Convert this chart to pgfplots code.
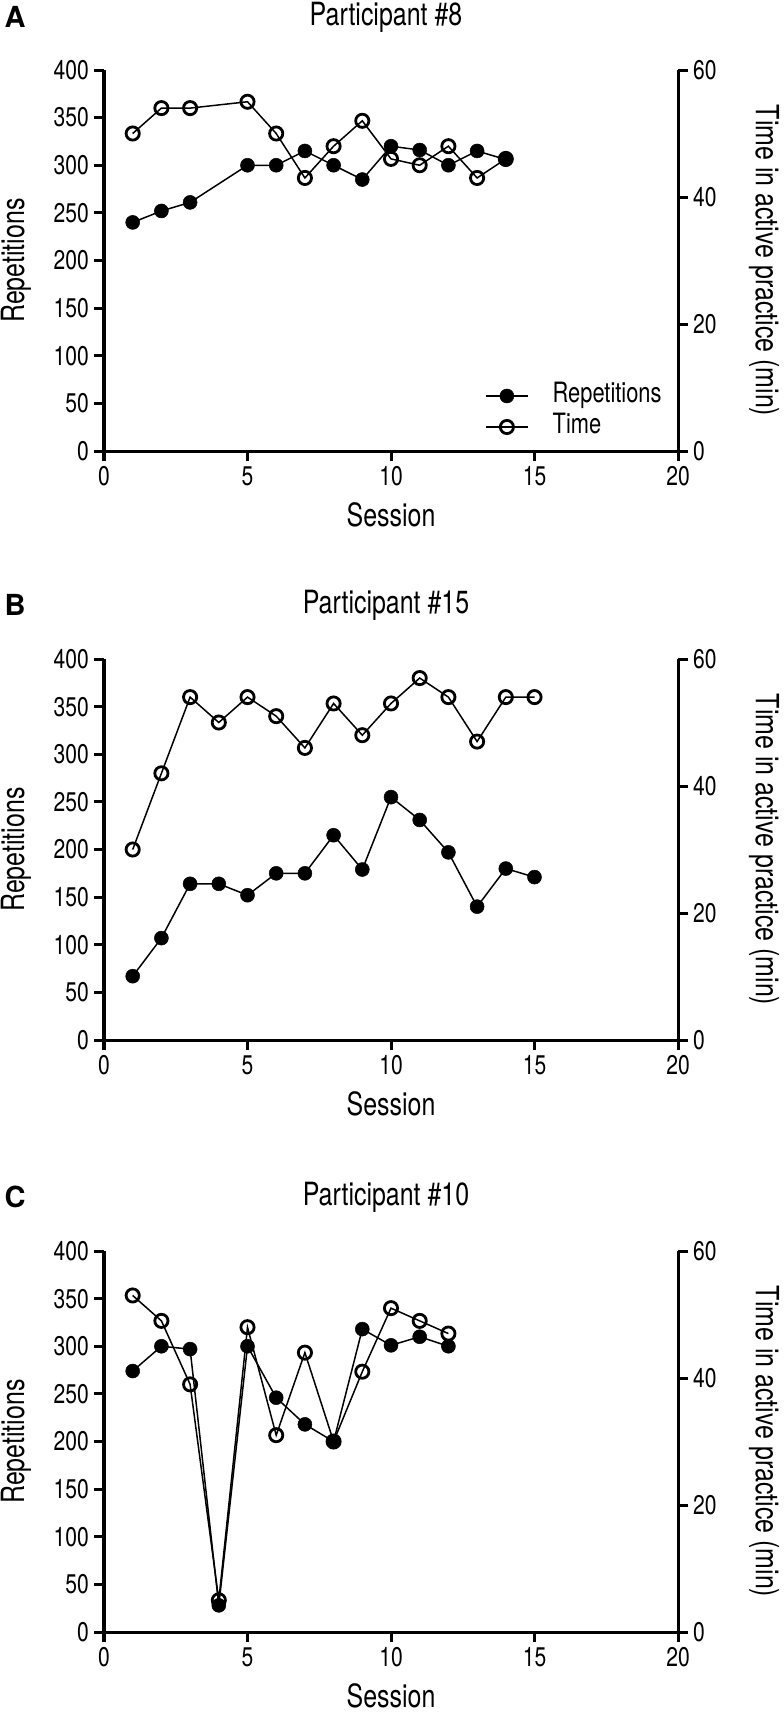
\documentclass[border=0pt]{standalone}
\usepackage{fontspec}
\setmainfont{TeX Gyre Heros}[FakeStretch=0.78]
\newfontfamily\letterfont{TeX Gyre Heros}
\usepackage{pgfplots}
\pgfplotsset{compat=1.18}

\pgfplotsset{
  base/.style={
    scale only axis, width=574bp, height=381bp,
    xmin=0, xmax=20,
    axis line style={line width=3bp},
    major tick style={line width=3bp, black},
    major tick length=10bp,
    tick align=outside,
    /pgf/number format/assume math mode=true,
    ticklabel style={font=\fontsize{27bp}{30bp}\selectfont},
    yticklabel style={inner sep=5bp},
    xticklabel style={yshift=-2bp},
    label style={font=\fontsize{32bp}{36bp}\selectfont},
    clip=false,
  },
  leftax/.style={base,
    axis x line*=bottom, axis y line*=left,
    ymin=0, ymax=400, ytick={0,50,...,400}, xtick={0,5,...,20},
    xlabel={Session}, ylabel={Repetitions},
    xlabel style={at={(axis description cs:0.5,-0.168)}, anchor=center},
    ylabel style={at={(axis description cs:-0.1533,0.5)}, anchor=center},
  },
  rightax/.style={base,
    axis x line=none, axis y line*=right,
    ymin=0, ymax=60, ytick={0,20,40,60},
    ylabel={Time in active practice (min)},
    ylabel style={at={(axis description cs:1.1498,0.5)}, anchor=center, rotate=180},
  },
  reps/.style={black, line width=1.5bp, mark=*, mark size=7bp, mark options={solid, fill=black, line width=0.5bp}},
  time/.style={black, line width=1.5bp, mark=o, mark size=6.6bp, mark options={solid, line width=2.8bp}},
}
\tikzset{
  ttl/.style={font=\fontsize{32bp}{36bp}\selectfont, anchor=center},
  letter/.style={font=\letterfont\bfseries\fontsize{29bp}{32bp}\selectfont, anchor=center},
}

\begin{document}
\begin{tikzpicture}
\path[use as bounding box] (0,0) rectangle (784bp,-1713bp);

% ---------------- Panel A ----------------
\begin{axis}[rightax, at={(104bp,-451bp)}, anchor=south west]
\addplot[time] coordinates {(1,50)(2,54)(3,54)(5,55)(6,50)(7,43)(8,48)(9,52)(10,46)(11,45)(12,48)(13,43)(14,46)};
\end{axis}
\begin{axis}[leftax, at={(104bp,-451bp)}, anchor=south west,
  legend style={draw=none, fill=none, at={(0.6585,0.1037)}, anchor=west,
    font=\fontsize{28bp}{30bp}\selectfont,
    nodes={inner sep=0pt, text height=20bp, text depth=7bp},
    row sep=4bp, cells={anchor=west}},
  legend image code/.code={\draw[mark repeat=2, mark phase=2] plot coordinates {(0bp,0bp) (21bp,0bp) (42bp,0bp)};},
  /tikz/every odd column/.append style={column sep=24bp},
]
\addplot[reps] coordinates {(1,240)(2,252)(3,261)(5,300)(6,300)(7,315)(8,300)(9,285)(10,320)(11,316)(12,300)(13,315)(14,306)};
\addlegendentry{Repetitions}
\addlegendimage{time}
\addlegendentry{Time}
\end{axis}
\node[letter] at (15bp,-17bp) {A};
\node[ttl] at (386bp,-17bp) {Participant \#8};

% ---------------- Panel B ----------------
\begin{axis}[rightax, at={(104bp,-1040bp)}, anchor=south west]
\addplot[time] coordinates {(1,30)(2,42)(3,54)(4,50)(5,54)(6,51)(7,46)(8,53)(9,48)(10,53)(11,57)(12,54)(13,47)(14,54)(15,54)};
\end{axis}
\begin{axis}[leftax, at={(104bp,-1040bp)}, anchor=south west]
\addplot[reps] coordinates {(1,67)(2,107)(3,164)(4,164)(5,152)(6,175)(7,175)(8,215)(9,179)(10,255)(11,231)(12,197)(13,140)(14,180)(15,171)};
\end{axis}
\node[letter] at (15bp,-605bp) {B};
\node[ttl] at (386bp,-605bp) {Participant \#15};

% ---------------- Panel C ----------------
\begin{axis}[rightax, at={(104bp,-1632bp)}, anchor=south west]
\addplot[time] coordinates {(1,53)(2,49)(3,39)(4,5)(5,48)(6,31)(7,44)(8,30)(9,41)(10,51)(11,49)(12,47)};
\end{axis}
\begin{axis}[leftax, at={(104bp,-1632bp)}, anchor=south west]
\addplot[reps] coordinates {(1,274)(2,300)(3,297)(4,28)(5,300)(6,246)(7,218)(8,200)(9,318)(10,301)(11,310)(12,300)};
\end{axis}
\node[letter] at (15bp,-1197bp) {C};
\node[ttl] at (386bp,-1197bp) {Participant \#10};
\end{tikzpicture}
\end{document}
